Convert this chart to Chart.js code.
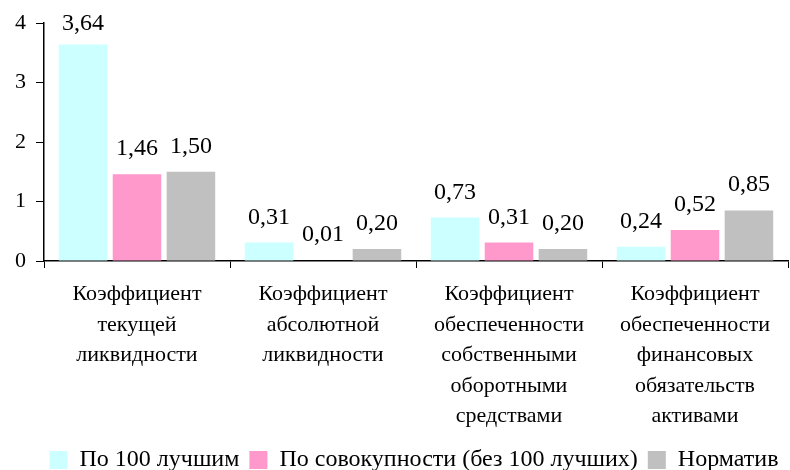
<!DOCTYPE html>
<html>
<head>
<meta charset="utf-8">
<script src="https://cdn.jsdelivr.net/npm/chart.js@4"></script>
<style>
  html, body { margin: 0; padding: 0; background: #ffffff; }
  #wrap { width: 790px; height: 470px; }
</style>
</head>
<body>
<div id="wrap"><canvas id="chart" width="790" height="470"></canvas></div>
<script>
const categories = [
  ['Коэффициент', 'текущей', 'ликвидности'],
  ['Коэффициент', 'абсолютной', 'ликвидности'],
  ['Коэффициент', 'обеспеченности', 'собственными', 'оборотными', 'средствами'],
  ['Коэффициент', 'обеспеченности', 'финансовых', 'обязательств', 'активами']
];
const seriesNames = ['По 100 лучшим', 'По совокупности (без 100 лучших)', 'Норматив'];
const best100 = [3.64, 0.31, 0.73, 0.24];
const others = [1.46, 0.01, 0.31, 0.52];
const norm = [1.50, 0.20, 0.20, 0.85];
const yTicks = [0, 1, 2, 3, 4];

const colors = ['#ccffff', '#ff99cc', '#c0c0c0'];
const serif = "'Liberation Serif', 'Times New Roman', serif";

// numbers above the bars, with a decimal comma
const valueLabels = {
  id: 'valueLabels',
  afterDatasetsDraw(chart) {
    const ctx = chart.ctx;
    ctx.save();
    ctx.font = '24px ' + serif;
    ctx.fillStyle = '#000';
    ctx.textAlign = 'center';
    ctx.textBaseline = 'alphabetic';
    chart.data.datasets.forEach((ds, i) => {
      chart.getDatasetMeta(i).data.forEach((bar, j) => {
        const txt = ds.data[j].toFixed(2).replace('.', ',');
        const y = Math.max(bar.y - 19, chart.chartArea.top + 7);
        ctx.fillText(txt, bar.x, y);
      });
    });
    ctx.restore();
  }
};

// nudge the legend down/right and let the category labels run below their box
const layoutTweak = {
  id: 'layoutTweak',
  afterLayout(chart) {
    const lg = chart.legend;
    if (lg) {
      lg.top += 12; lg.bottom += 12;
      lg.left += 20; lg.right += 20;
    }
    chart.scales.x.bottom = chart.height;
  }
};

new Chart(document.getElementById('chart'), {
  type: 'bar',
  data: {
    labels: categories,
    datasets: [
      { label: seriesNames[0], data: best100, backgroundColor: colors[0] },
      { label: seriesNames[1], data: others, backgroundColor: colors[1] },
      { label: seriesNames[2], data: norm, backgroundColor: colors[2] }
    ]
  },
  options: {
    responsive: false,
    animation: false,
    categoryPercentage: 0.87,
    barPercentage: 0.9,
    layout: { padding: { top: 7, right: 2, left: 0, bottom: 0 } },
    plugins: {
      legend: {
        position: 'bottom',
        labels: {
          font: { family: serif, size: 24 },
          color: '#000',
          boxWidth: 18,
          boxHeight: 18,
          padding: 10
        }
      },
      tooltip: { enabled: false }
    },
    scales: {
      x: {
        grid: { display: true, drawOnChartArea: false, offset: true, tickLength: 7, color: '#000' },
        border: { color: '#000', width: 1.5 },
        ticks: {
          font: { family: serif, size: 22, lineHeight: 1.39 },
          color: '#000',
          maxRotation: 0,
          autoSkip: false,
          padding: 11
        },
        afterFit(scale) { scale.height = 165; }
      },
      y: {
        min: 0,
        max: 4,
        afterBuildTicks(scale) { scale.ticks = yTicks.map(v => ({ value: v })); },
        grid: { display: true, drawOnChartArea: false, tickLength: 8, color: '#000' },
        border: { color: '#000', width: 1.5 },
        ticks: {
          font: { family: serif, size: 22 },
          color: '#000',
          padding: 10
        },
        afterFit(scale) { scale.width = 44; }
      }
    }
  },
  plugins: [valueLabels, layoutTweak]
});
</script>
</body>
</html>
